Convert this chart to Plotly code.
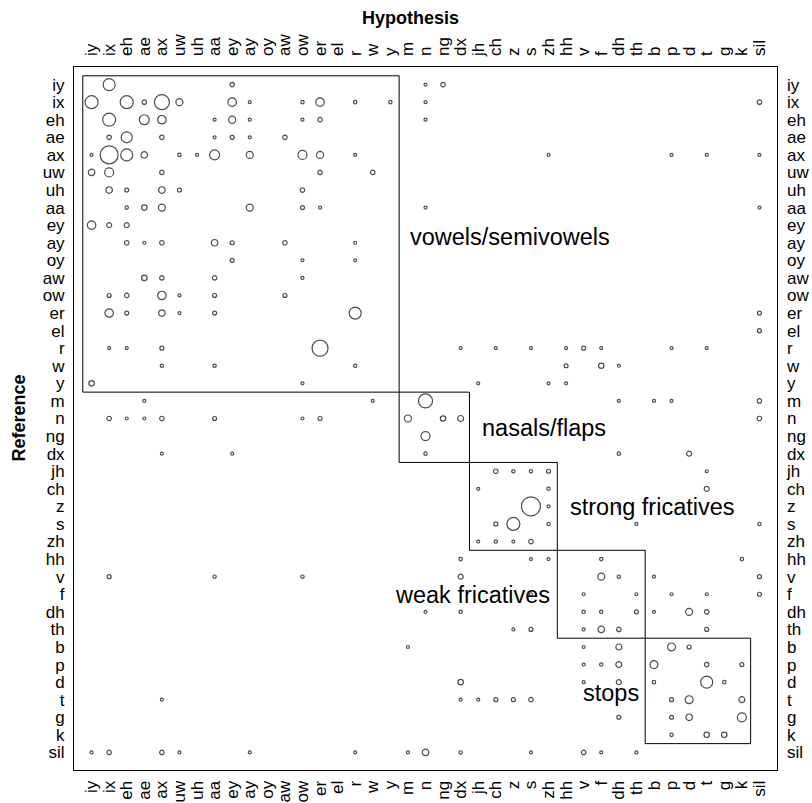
import numpy as np
import plotly.graph_objects as go

# Phone inventory (same order on both axes)
phones = ["iy", "ix", "eh", "ae", "ax", "uw", "uh", "aa", "ey", "ay", "oy", "aw",
          "ow", "er", "el", "r", "w", "y", "m", "n", "ng", "dx", "jh", "ch", "z",
          "s", "zh", "hh", "v", "f", "dh", "th", "b", "p", "d", "t", "g", "k", "sil"]

# Off-diagonal confusions: reference phone, hypothesised phone, count
ref_phone = (
    ["iy"] * 4 + ["ix"] * 13 + ["eh"] * 9 + ["ae"] * 7 + ["ax"] * 15 + ["uw"] * 5 +
    ["uh"] * 5 + ["aa"] * 8 + ["ey"] * 3 + ["ay"] * 7 + ["oy"] * 3 + ["aw"] * 4 +
    ["ow"] * 6 + ["er"] * 7 + ["el"] * 1 + ["r"] * 12 + ["w"] * 6 + ["y"] * 5 +
    ["m"] * 7 + ["n"] * 11 + ["ng"] * 1 + ["dx"] * 5 + ["jh"] * 5 + ["ch"] * 3 +
    ["z"] * 3 + ["s"] * 5 + ["zh"] * 4 + ["hh"] * 5 + ["v"] * 8 + ["f"] * 6 +
    ["dh"] * 8 + ["th"] * 6 + ["b"] * 5 + ["p"] * 6 + ["d"] * 6 + ["t"] * 9 +
    ["g"] * 4 + ["k"] * 3 + ["sil"] * 13
)
hyp_phone = [
    "ix", "ey", "n", "ng",
    "iy", "eh", "ae", "ax", "uw", "ey", "ay", "ow", "er", "r", "y", "n", "sil",
    "ix", "ae", "ax", "aa", "ey", "ay", "ow", "er", "n",
    "ix", "eh", "ax", "aa", "ey", "ay", "aw",
    "iy", "ix", "eh", "ae", "uw", "uh", "aa", "ay", "ow", "er", "r", "zh", "p", "t", "sil",
    "iy", "ix", "ax", "er", "w",
    "ix", "eh", "ax", "uw", "ow",
    "eh", "ae", "ax", "ay", "ow", "er", "n", "sil",
    "iy", "ix", "eh",
    "eh", "ae", "ax", "aa", "ey", "aw", "r",
    "ey", "ow", "r",
    "ae", "ax", "aa", "ow",
    "ix", "eh", "ax", "uw", "aa", "aw",
    "ix", "eh", "ax", "uw", "aa", "r", "sil",
    "sil",
    "ix", "eh", "ax", "er", "dx", "ch", "s", "hh", "v", "f", "p", "t",
    "ax", "aa", "r", "hh", "f", "dh",
    "iy", "ow", "jh", "zh", "hh",
    "ae", "w", "n", "dh", "b", "p", "sil",
    "ix", "eh", "ae", "ax", "aa", "ow", "er", "m", "ng", "dx", "sil",
    "n",
    "ax", "ey", "n", "dh", "d",
    "ch", "z", "s", "zh", "t",
    "jh", "zh", "t",
    "s", "zh", "dh",
    "ch", "z", "zh", "th", "sil",
    "jh", "ch", "z", "s",
    "dx", "s", "zh", "f", "k",
    "ix", "aa", "ow", "dx", "f", "dh", "b", "sil",
    "v", "s", "th", "p", "t", "sil",
    "n", "dx", "v", "f", "th", "b", "d", "t",
    "z", "s", "v", "f", "dh", "t",
    "m", "v", "dh", "p", "d",
    "v", "f", "dh", "b", "t", "k",
    "dx", "v", "dh", "b", "t", "g",
    "ax", "dx", "jh", "ch", "z", "s", "p", "d", "k",
    "dh", "p", "d", "k",
    "p", "t", "g",
    "iy", "ix", "ax", "uw", "ay", "r", "m", "n", "dx", "s", "v", "f", "th",
]
count = [
    64, 9, 4, 9,
    75, 75, 9, 100, 22, 32, 4, 5, 32, 5, 5, 4, 9,
    75, 44, 32, 4, 22, 4, 4, 9, 4,
    9, 54, 9, 4, 7, 4, 9,
    4, 144, 64, 19, 5, 4, 44, 22, 36, 22, 4, 4, 4, 4, 4,
    19, 36, 9, 9, 9,
    19, 7, 19, 7, 9,
    5, 13, 22, 22, 7, 4, 4, 4,
    32, 11, 11,
    9, 4, 9, 19, 7, 9, 4,
    7, 4, 4,
    13, 9, 9, 4,
    7, 9, 32, 4, 7, 7,
    32, 7, 19, 4, 7, 64, 7,
    7,
    4, 4, 7, 114, 4, 4, 4, 4, 7, 4, 4, 4,
    5, 5, 5, 7, 13, 4,
    13, 4, 4, 4, 4,
    4, 4, 87, 4, 4, 4, 9,
    9, 4, 4, 9, 7, 4, 7, 22, 13, 16, 9,
    36,
    4, 4, 5, 5, 11,
    9, 5, 5, 7, 4,
    4, 5, 11,
    160, 4, 4,
    7, 75, 5, 4, 5,
    4, 5, 4, 9,
    5, 4, 4, 5, 5,
    7, 5, 5, 11, 22, 5, 4, 7,
    4, 4, 4, 4, 4, 7,
    4, 5, 5, 5, 7, 4, 22, 9,
    4, 7, 4, 19, 9, 7,
    4, 4, 16, 28, 7,
    4, 5, 16, 28, 9, 7,
    13, 4, 11, 5, 64, 5,
    4, 4, 4, 7, 7, 9, 7, 28, 16,
    7, 7, 19, 36,
    5, 13, 13,
    4, 9, 9, 4, 4, 4, 4, 19, 5, 4, 9, 4, 4,
]

# Broad phonetic classes: label, first and last phone of the block
class_names = ["vowels/semivowels", "nasals/flaps", "strong fricatives",
               "weak fricatives", "stops"]
class_first = ["iy", "m", "jh", "hh", "b"]
class_last = ["y", "dx", "zh", "th", "k"]
class_label_pos = [(18.0, 8.65), (22.1, 19.55), (27.1, 24.05), (17.15, 29.05), (27.85, 34.6)]

idx = {p: i for i, p in enumerate(phones)}
xs = [idx[h] for h in hyp_phone]
ys = [idx[r] for r in ref_phone]
sizes = 1.5 * np.sqrt(np.array(count, dtype=float))

FONT = "Liberation Sans, Arial, Helvetica, sans-serif"
n = len(phones)

fig = go.Figure()
fig.add_trace(go.Scatter(
    x=xs, y=ys, mode="markers",
    marker=dict(symbol="circle-open", size=sizes, color="black",
                line=dict(width=1.2, color="black")),
    customdata=np.stack([ref_phone, hyp_phone, count], axis=1),
    hovertemplate="ref %{customdata[0]} → hyp %{customdata[1]}: %{customdata[2]}<extra></extra>",
    showlegend=False,
))
# carrier for the mirrored top/right axes
fig.add_trace(go.Scatter(x=[None], y=[None], xaxis="x2", yaxis="y2",
                         mode="markers", showlegend=False, hoverinfo="skip"))

for a, b in zip(class_first, class_last):
    lo, hi = idx[a] - 0.5, idx[b] + 0.5
    fig.add_shape(type="rect", xref="x", yref="y", x0=lo, x1=hi, y0=lo, y1=hi,
                  line=dict(color="black", width=1), fillcolor="rgba(0,0,0,0)")

for name, (px, py) in zip(class_names, class_label_pos):
    fig.add_annotation(x=px, y=py, xref="x", yref="y", text=name, showarrow=False,
                       xanchor="left", yanchor="middle",
                       font=dict(family=FONT, size=23.5, color="black"))

tick_font = dict(family=FONT, size=17, color="black")
common = dict(range=[-1, n], tickmode="array", tickvals=list(range(n)), ticktext=phones,
              showgrid=False, zeroline=False, ticks="", tickfont=tick_font,
              automargin=False)

fig.update_layout(
    width=812, height=803,
    margin=dict(l=74, r=35, t=67, b=33),
    paper_bgcolor="white", plot_bgcolor="white",
    xaxis=dict(**common, tickangle=-90, showline=True, mirror=True,
               linecolor="black", linewidth=1, ticklabelstandoff=3),
    xaxis2=dict(**common, tickangle=-90, overlaying="x", side="top", anchor="y",
                matches="x", showline=False, ticklabelstandoff=10),
    yaxis=dict(**{**common, "range": [n, -1]}, showline=True, mirror=True,
               linecolor="black", linewidth=1, ticklabelstandoff=5),
    yaxis2=dict(**{**common, "range": [n, -1]}, overlaying="y", side="right",
                anchor="x", matches="y", showline=False, ticklabelstandoff=9),
    annotations=list(fig.layout.annotations) + [
        dict(text="<b>Hypothesis</b>", x=0.479, y=1, xref="paper", yref="paper",
             yshift=49, showarrow=False, yanchor="middle",
             font=dict(family=FONT, size=18, color="black")),
        dict(text="<b>Reference</b>", x=0, y=0.5, xref="paper", yref="paper",
             xshift=-56, showarrow=False, textangle=-90, xanchor="center",
             font=dict(family=FONT, size=18, color="black")),
    ],
)

fig.write_html("out.html")
